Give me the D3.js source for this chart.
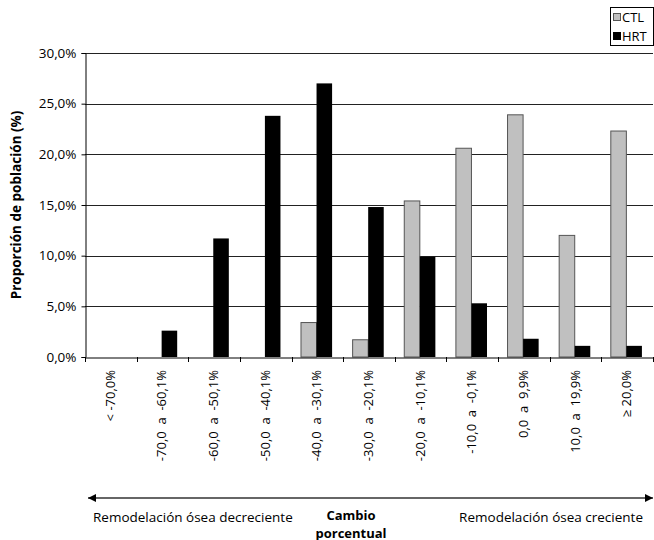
<!DOCTYPE html>
<html><head><meta charset="utf-8">
<script src="https://cdn.jsdelivr.net/npm/d3@7"></script>
<style>body{margin:0;background:#fff}svg{display:block}text{font-family:"Open Sans",sans-serif}</style>
</head><body>
<svg id="c" width="654" height="540"></svg>
<script>
const categories = ["< -70,0%","-70,0  a  -60,1%","-60,0  a  -50,1%","-50,0  a  -40,1%","-40,0  a  -30,1%","-30,0  a  -20,1%","-20,0  a  -10,1%","-10,0  a  -0,1%","0,0  a  9,9%","10,0  a  19,9%","≥ 20,0%"];
const seriesNames = ["CTL","HRT"];
const ctl = [0,0,0,0,3.4,1.7,15.4,20.6,23.9,12.0,22.3];
const hrt = [0,2.6,11.7,23.8,27.0,14.8,9.9,5.3,1.8,1.1,1.1];
const yTicks = [0,5,10,15,20,25,30];
const yTitle = "Proporción de población (%)";
const xTitle = ["Cambio","porcentual"];
const leftNote = "Remodelación ósea decreciente";
const rightNote = "Remodelación ósea creciente";
const colors = {CTL:"#c0c0c0", HRT:"#000000"};

const svg = d3.select("#c");
const L = 85, R = 653, T = 53, B = 357;
const x = d3.scaleBand().domain(categories).range([L,R]).paddingInner(0).paddingOuter(0);
const x1 = d3.scaleBand().domain(seriesNames).range([0,x.bandwidth()]).paddingInner(0).paddingOuter(0.66).align(0.46);
const y = d3.scaleLinear().domain([0,30]).range([B,T]);
const fmt = d3.formatLocale({decimal:",",thousands:".",grouping:[3],currency:["","€"]}).format(".1f");

// gridlines
svg.append("g").selectAll("line").data(yTicks.filter(d=>d>0)).join("line")
  .attr("x1",L).attr("x2",R).attr("y1",d=>Math.round(y(d))+0.5).attr("y2",d=>Math.round(y(d))+0.5)
  .attr("stroke","#222").attr("stroke-width",1);

// bars
const data = categories.map((c,i)=>({c, vals:[{s:"CTL",v:ctl[i]},{s:"HRT",v:hrt[i]}]}));
const g = svg.append("g");
g.selectAll("g").data(data).join("g").attr("transform",d=>`translate(${x(d.c)},0)`)
  .selectAll("rect").data(d=>d.vals.filter(v=>v.v>0)).join("rect")
  .attr("x",d=>x1(d.s)).attr("width",x1.bandwidth())
  .attr("y",d=>y(d.v)).attr("height",d=>B-y(d.v))
  .attr("fill",d=>colors[d.s])
  .attr("stroke",d=>d.s==="CTL"?"#555":"none").attr("stroke-width",1);

// y axis
const ya = svg.append("g").attr("transform",`translate(${L+0.5},0)`)
  .call(d3.axisLeft(y).tickValues(yTicks).tickSize(4).tickFormat(d=>fmt(d)+"%"));
ya.select(".domain").attr("stroke","#000");
ya.selectAll(".tick line").attr("stroke","#000");
ya.selectAll("text").attr("font-size",13.5).attr("fill","#000").attr("x",-9).attr("font-family","Open Sans");

// x axis
const xa = svg.append("g").attr("transform",`translate(0,${B+0.5})`)
  .call(d3.axisBottom(x).tickSize(0).tickFormat(""));
xa.select(".domain").attr("stroke","#000");
svg.append("g").selectAll("line").data(categories).join("line")
  .attr("x1",d=>Math.round(x(d))+0.5).attr("x2",d=>Math.round(x(d))+0.5)
  .attr("y1",B).attr("y2",B+5).attr("stroke","#000");
svg.append("line").attr("x1",R+0.5).attr("x2",R+0.5).attr("y1",B).attr("y2",B+5).attr("stroke","#000");

svg.append("g").selectAll("text").data(categories).join("text")
  .attr("transform",d=>`translate(${x(d)+x.bandwidth()/2+4},370) rotate(-90)`)
  .attr("text-anchor","end").attr("font-size",13).attr("fill","#000")
  .style("white-space","pre").text(d=>d);

// y title
svg.append("text").attr("transform",`translate(21,${(T+B)/2}) rotate(-90)`)
  .attr("text-anchor","middle").attr("font-size",13.5).attr("font-weight","bold").text(yTitle);

// legend
const lg = svg.append("g");
lg.append("rect").attr("x",610.5).attr("y",7.5).attr("width",43).attr("height",38).attr("fill","#fff").attr("stroke","#000");
seriesNames.forEach((s,i)=>{
  lg.append("rect").attr("x",613.5).attr("y",13.5+i*19).attr("width",7).attr("height",7)
    .attr("fill",colors[s]).attr("stroke",s==="CTL"?"#555":"#000");
  lg.append("text").attr("x",622).attr("y",22+i*19).attr("font-size",13).text(s);
});

// arrow
const defs = svg.append("defs");
defs.append("marker").attr("id","ah").attr("viewBox","0 0 10 10").attr("refX",10).attr("refY",5)
  .attr("markerWidth",8).attr("markerHeight",8).attr("markerUnits","userSpaceOnUse").attr("orient","auto-start-reverse")
  .append("path").attr("d","M0,0L10,5L0,10Z").attr("fill","#000");
svg.append("line").attr("x1",88).attr("x2",653).attr("y1",498).attr("y2",498)
  .attr("stroke","#666").attr("stroke-width",2)
  .attr("marker-start","url(#ah)").attr("marker-end","url(#ah)");

svg.append("text").attr("x",93).attr("y",522).attr("font-size",13.5).text(leftNote);
svg.append("text").attr("x",643).attr("y",522).attr("text-anchor","end").attr("font-size",13.5).text(rightNote);
svg.append("text").attr("x",351).attr("y",520).attr("text-anchor","middle").attr("font-size",13).attr("font-weight","bold").text(xTitle[0]);
svg.append("text").attr("x",351).attr("y",537.5).attr("text-anchor","middle").attr("font-size",13).attr("font-weight","bold").text(xTitle[1]);
</script>
</body></html>
